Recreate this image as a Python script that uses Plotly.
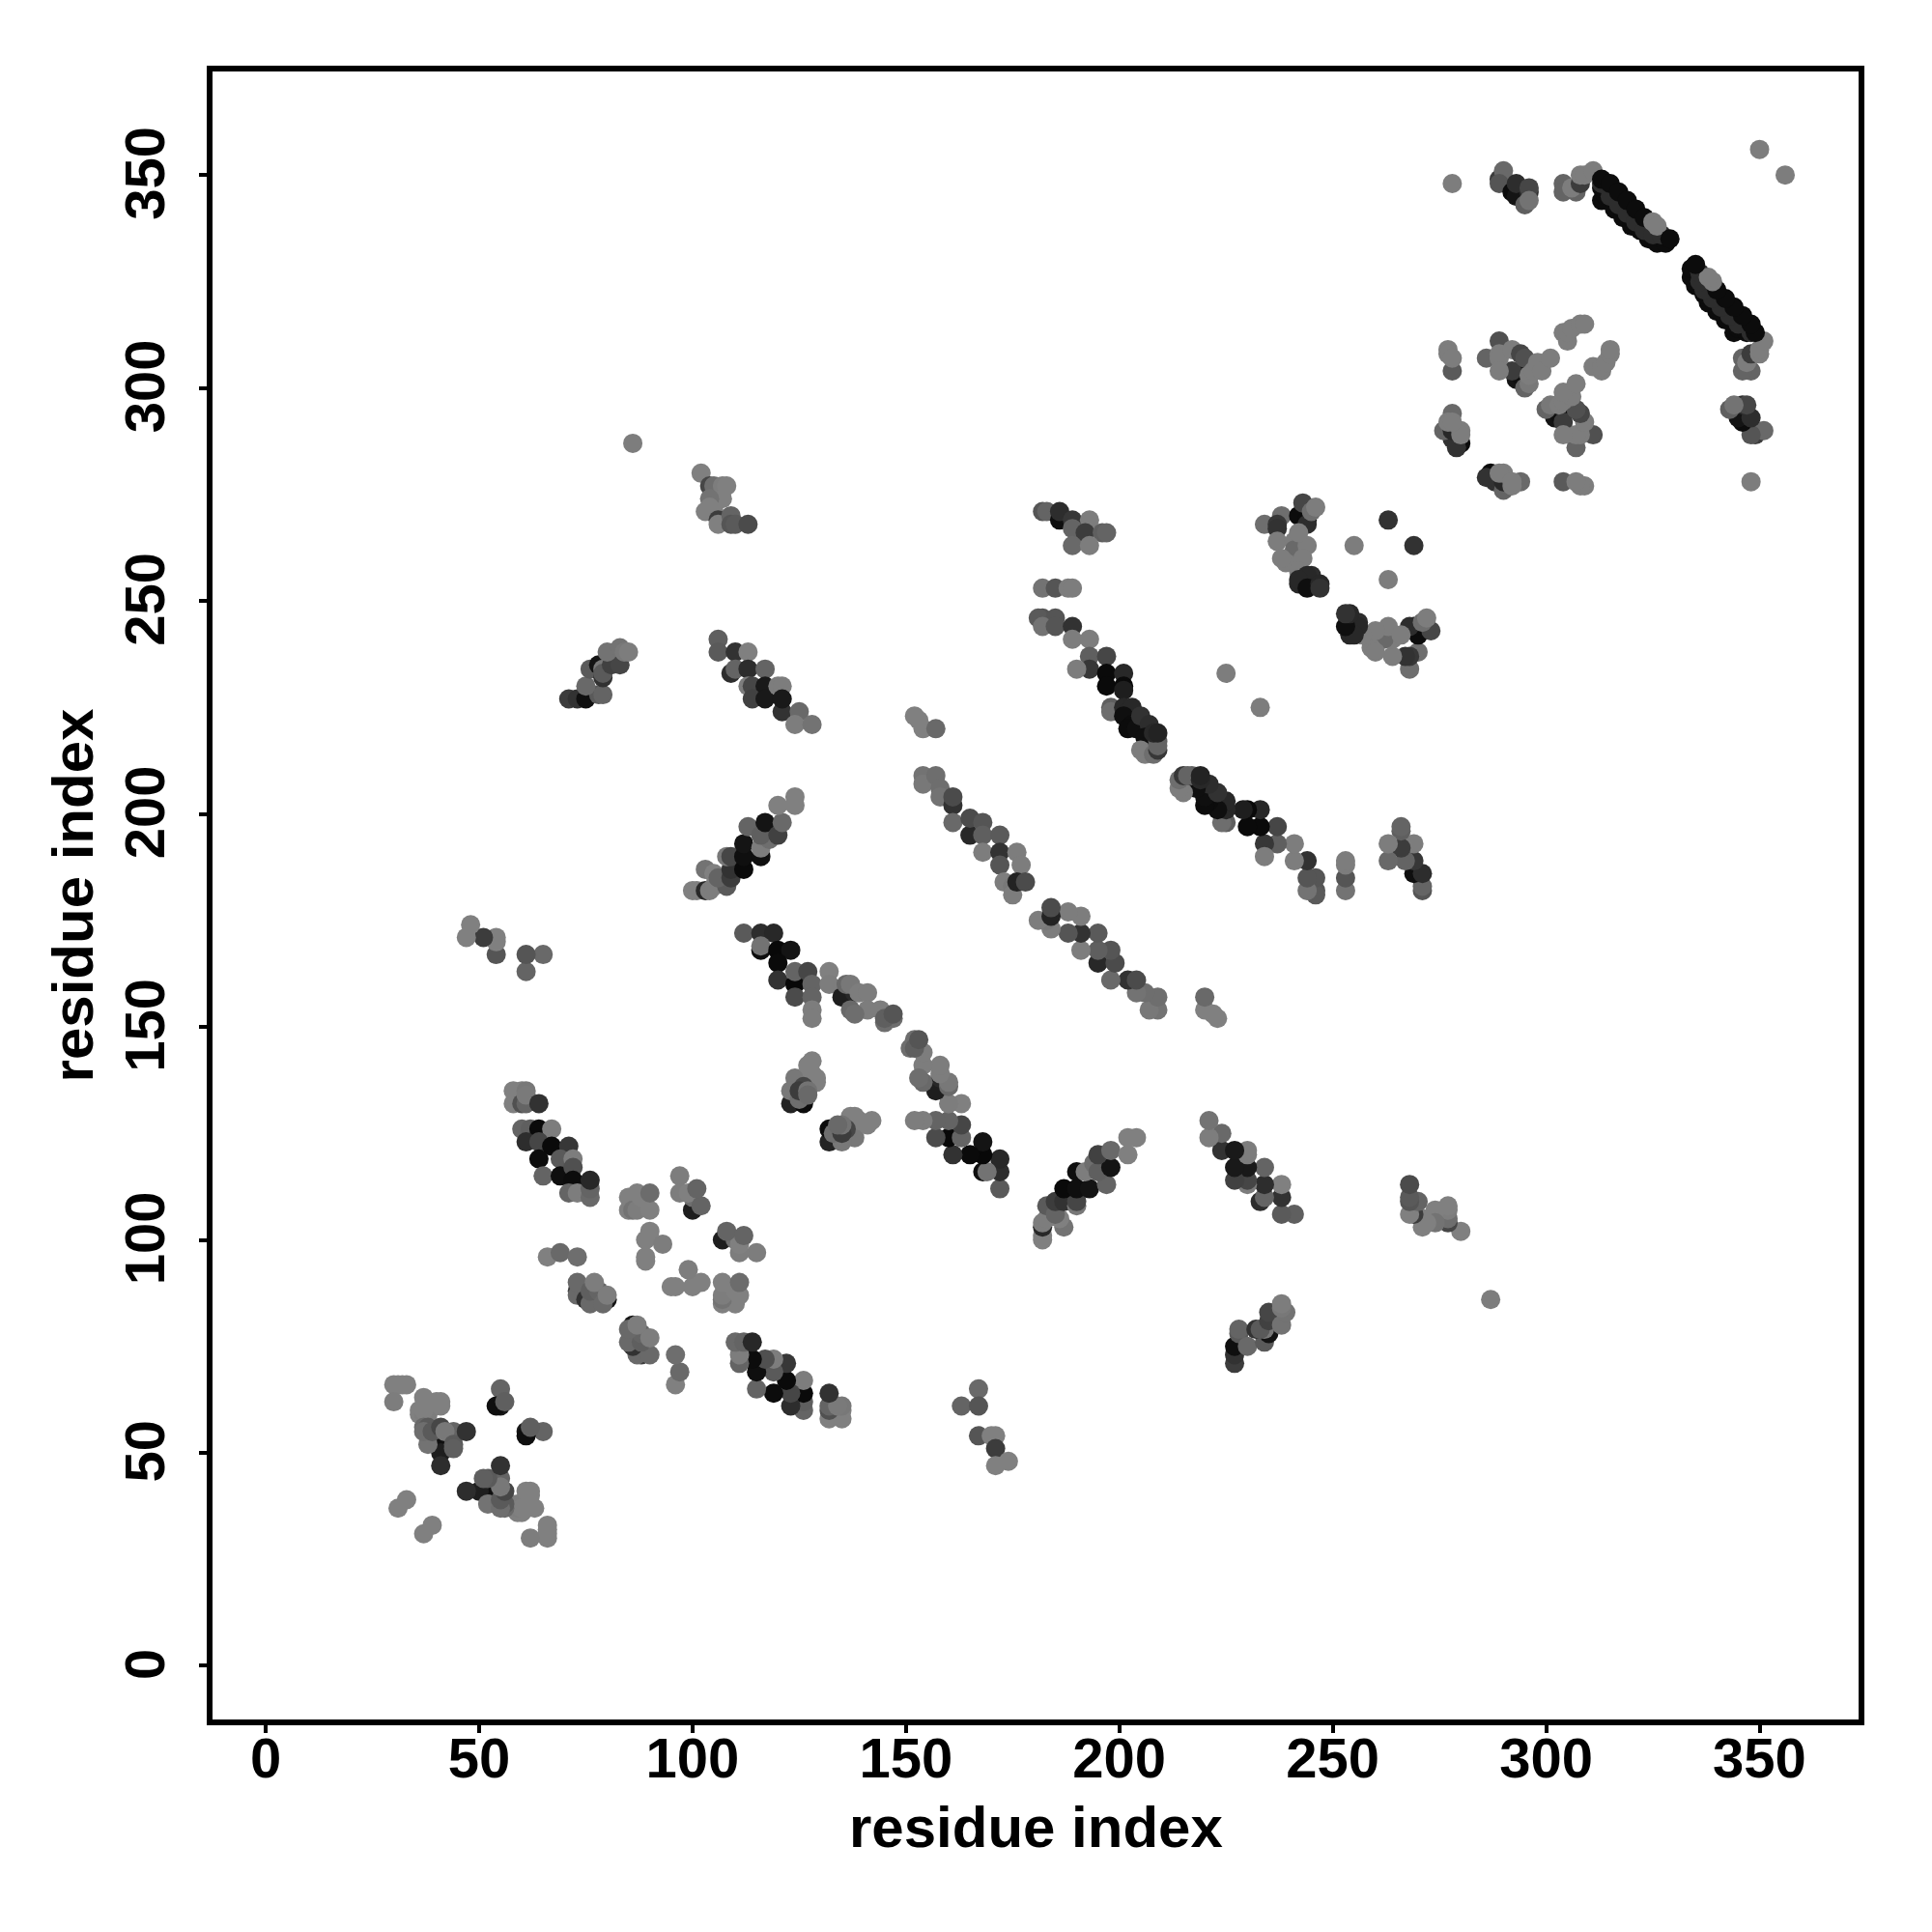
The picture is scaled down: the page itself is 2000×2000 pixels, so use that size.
import plotly.graph_objects as go

# Each contact: (residue i, residue j, grey level). The map is symmetric, so each is drawn at (i,j) and (j,i).
c_a = [(41,54,30),(41,52,15),(41,50,30),(30,66,128),(31,66,128),(32,66,128),(33,66,128),(30,62,125),(37,63,128),(36,59,128),(36,60,128),(38,59,125),(37,59,125),(37,60,128),(40,62,128),(41,62,128),(41,61,128),(37,56,105),(38,56,90),(38,54,110),(38,52,115),(37,55,110),(39,55,90),(41,56,70),(44,55,100),(42,55,120),(44,52,90),(44,51,95),(47,55,50),(41,47,45),(31,37,128),(33,39,128)]
c_b = [(55,65,100),(55,61,25),(54,61,15),(56,62,95)]
c_d = [(58,135,128),(58,132,128),(59,134,128),(60,135,128),(61,135,120),(60,132,80),(61,132,100),(61,134,122),(64,132,50),(60,126,100),(62,126,95),(64,126,10),(67,126,125),(61,123,45),(64,123,70),(67,122,10),(71,122,55),(64,119,12),(69,119,90),(72,119,125),(65,115,100),(69,115,15),(72,117,80),(72,114,12),(71,111,100),(73,111,125),(76,110,105),(76,112,100),(76,114,40)]
c_e = [(66,96,128),(69,97,105),(73,96,110)]
c_f = [(73,88,60),(73,87,105),(73,90,105),(75,86,50),(80,86,20),(76,85,105),(76,88,95),(78,88,100),(79,85,105),(77,90,125),(80,87,125)]
c_g = [(85,110,128),(85,107,128),(86,107,115),(87,111,128),(87,107,125),(88,110,128),(90,107,128),(90,111,108)]
c_h = [(89,95,128),(89,96,128),(89,100,128),(90,102,128),(93,99,125)]
c_i = [(97,115,125),(97,111,125),(100,107,30),(100,110,110),(99,111,128),(102,108,100),(101,112,100)]
c_j = [(123,132,35),(126,132,12),(128,142,128),(124,138,120),(127,141,128),(128,139,128),(129,138,128),(129,137,128),(123,135,120),(125,133,110),(126,136,70),(125,135,60),(127,135,115),(127,134,105)]
c_k = [(112,172,90),(116,172,45),(119,172,40),(116,168,15),(116,169,115),(120,168,8),(123,168,20),(120,165,10),(120,161,50),(124,160,8),(124,163,100),(127,163,70),(124,157,75),(128,160,100),(128,157,100),(128,154,125),(128,152,125),(132,163,128),(132,160,125),(135,157,30),(138,158,40),(136,160,105),(137,160,120),(137,154,105),(139,158,125),(141,158,125),(141,154,125),(144,154,125),(145,151,110),(147,152,110),(145,152,95),(147,153,85),(138,153,110)]
c_l = [(102,280,128),(104,277,70),(105,277,110),(107,277,125),(108,277,128),(107,274,128),(104,274,115),(104,272,128),(103,271,128),(105,271,128),(106,269,60),(106,268,128),(109,270,100),(109,268,85),(110,268,90),(113,268,75)]
c_m = [(71,227,60),(73,227,50),(75,227,15),(78,228,90),(79,228,100),(75,230,105),(76,234,90),(79,232,50),(78,235,20),(79,234,120),(79,233,90),(81,235,65),(83,235,70),(80,238,115),(83,239,115),(84,238,120),(85,238,125)]
c_n = [(106,241,95),(106,238,90),(110,238,50),(113,238,128),(109,233,45),(110,234,100),(113,234,45),(117,234,100),(113,230,125),(114,230,70),(117,230,25),(114,227,65),(117,227,25),(120,230,125),(121,230,125),(121,224,50),(121,227,25),(125,224,105),(124,221,125),(128,221,115)]
c_o = [(100,182,128),(101,182,128),(103,182,40),(104,182,125),(105,183,125),(103,187,115),(105,186,128),(108,183,90),(106,185,100),(109,185,60),(109,187,50),(108,190,120),(109,190,70),(112,187,10),(112,190,15),(112,193,20),(113,197,100),(116,190,15),(116,192,125),(118,194,110),(116,195,95),(117,198,20),(120,195,65),(121,198,105),(120,202,128),(124,202,128),(124,204,128)]
c_p = [(65,167,105),(61,163,100),(61,167,85),(54,167,85),(54,170,128),(54,171,128),(51,171,60),(47,171,128),(48,174,128),(86,287,125)]
c_q = [(152,223,128),(153,222,128),(154,220,128),(157,220,105),(154,209,115),(154,207,120),(157,209,110),(158,206,110),(158,204,115),(161,202,50),(161,204,75),(161,198,105),(165,195,40),(165,199,75),(168,198,85),(168,195,95),(172,195,90),(168,191,125),(172,191,50),(176,191,125),(172,188,85),(177,188,125),(173,184,125),(175,183,120),(175,181,125),(176,184,35),(178,184,75)]
c_s = [(182,246,85),(181,246,90),(185,246,85),(182,244,115),(185,244,85),(189,244,50),(189,241,125),(193,241,125),(193,237,95),(197,237,70),(193,234,55),(190,234,125),(197,233,10),(201,233,40),(197,230,10),(201,230,10),(201,229,30),(198,225,95),(198,224,110),(201,225,40),(202,224,40),(203,225,40),(201,223,15),(203,221,12),(202,220,12),(204,220,15),(205,223,50),(207,221,45),(206,218,15),(205,215,125),(206,214,125),(208,214,110),(209,215,55),(209,217,95),(209,216,100),(208,219,40),(209,219,35)]
c_t = [(182,253,115),(185,253,85),(188,253,125),(189,253,125)]
c_u = [(182,271,85),(183,271,100),(186,269,15),(186,271,45),(189,269,55),(193,269,125),(189,267,100),(192,266,60),(196,266,95),(197,266,100),(189,263,105),(193,263,125)]
c_v = [(234,268,110),(238,270,110),(237,268,55),(237,267,50),(242,270,12),(244,269,12),(244,268,45),(243,273,70),(245,271,110),(246,272,125),(237,264,125),(241,264,125),(241,262,105),(244,263,125),(239,259,125),(238,260,125),(243,260,125),(242,257,125),(242,266,125),(245,256,45),(244,256,40),(242,254,40),(242,255,40),(244,253,15),(247,254,40),(247,253,50)]
c_w = [(225,233,125),(255,263,125),(263,269,50),(278,348,125),(350,356,125)]
c_x = [(280,287,12),(278,288,50),(279,286,50),(276,290,100),(278,290,40),(278,294,105),(280,290,125),(280,289,125),(277,292,125),(278,292,125)]
c_y = [(277,309,125),(277,308,125),(278,304,90),(278,307,125)]
c_z = [(293,302,20),(295,302,10),(294,303,15),(292,304,60),(286,307,100),(289,311,80),(289,308,125),(289,307,125),(289,304,125),(292,309,125),(294,308,70),(295,307,80),(295,300,100),(296,301,120),(296,303,125),(297,304,125),(298,306,125),(299,304,125),(301,307,125)]
c_aa = [(304,313,125),(305,311,125),(305,313,125),(306,314,125),(308,315,125),(309,315,125)]
c_bb = [(289,349,60),(290,349,105),(290,351,105),(289,348,85),(292,346,12),(293,345,20),(293,348,45),(296,346,45),(296,347,70),(295,343,95),(296,344,115)]
c_cc = [(304,348,100),(304,346,100),(307,346,100),(306,347,125),(308,348,60),(308,350,125),(309,350,125),(311,351,125)]
c_dd = [(313,344,12),(314,345,12),(316,342,12),(318,340,12),(320,338,12),(322,337,12),(324,335,12),(326,334,12),(328,334,12),
        (313,347,12),(313,348,45),(315,345,45),(317,343,45),(319,341,45),(321,339,45),(323,337,45),(325,336,45),(327,336,45),
        (313,349,12),(315,348,12),(317,346,12),(319,344,12),(321,342,12),(323,340,12),(325,339,125),(326,338,125),(329,335,12)]

clusters = [c_a,c_b,c_d,c_e,c_f,c_g,c_h,c_i,c_j,c_k,c_l,c_m,c_n,c_o,c_p,c_q,c_s,c_t,c_u,c_v,c_w,c_x,c_y,c_z,c_aa,c_bb,c_cc,c_dd]
tick_values = [0, 50, 100, 150, 200, 250, 300, 350]
axis_title = "residue index"

contacts = [c for group in clusters for c in group]
xs = [c[0] for c in contacts] + [c[1] for c in contacts]
ys = [c[1] for c in contacts] + [c[0] for c in contacts]
shades = [c[2] for c in contacts] * 2
colors = [f"rgb({g},{g},{g})" for g in shades]

tick_font = dict(family="Liberation Sans", size=58, color="black", weight="bold")
title_font = dict(family="Liberation Sans", size=60, color="black", weight="bold")
fig = go.Figure(go.Scatter(x=xs, y=ys, mode="markers", marker=dict(size=20, color=colors, line=dict(width=0))))
axis = dict(showgrid=False, zeroline=False, showline=True, linecolor="black", linewidth=6, mirror=True,
            ticks="outside", ticklen=8, tickwidth=4, tickcolor="black", tickvals=tick_values,
            tickfont=tick_font)
fig.update_layout(width=2000, height=2000, paper_bgcolor="white", plot_bgcolor="white", showlegend=False,
                  margin=dict(l=220, r=76, t=74, b=220),
                  xaxis=dict(axis, range=[-12.47, 373.2], tickangle=0, ticklabelstandoff=-24),
                  yaxis=dict(axis, range=[-12.6, 374.3], tickangle=-90, ticklabelstandoff=13, ticklabelshift=7,
                             title=dict(text=axis_title, font=title_font, standoff=3)),
                  annotations=[dict(text=axis_title, font=title_font, xref="paper", yref="paper", x=0.5, y=0,
                                    xanchor="center", yanchor="middle", yshift=-111, showarrow=False)])
fig.write_html("out.html", config=dict(displayModeBar=False),
               post_script="document.body.style.margin='0';document.body.style.overflow='hidden';")
